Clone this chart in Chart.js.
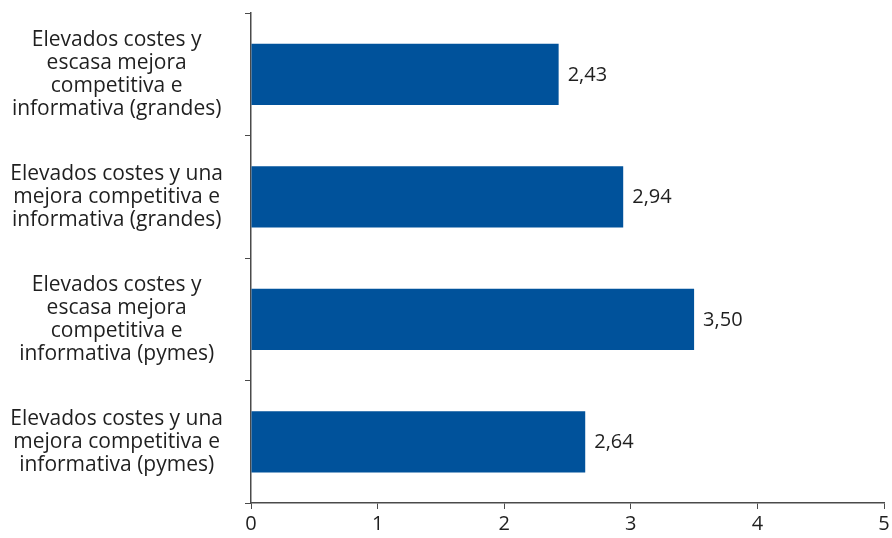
<!DOCTYPE html>
<html>
<head>
<meta charset="utf-8">
<script src="https://cdn.jsdelivr.net/npm/chart.js@4"></script>
<style>
  html, body { margin: 0; padding: 0; background: #fff; }
  #wrap { width: 892px; height: 538px; }
</style>
</head>
<body>
<div id="wrap"><canvas id="c" width="892" height="538"></canvas></div>
<script>
// Categories (multi-line labels) and their values
const categories = [
  ["Elevados costes y", "escasa mejora", "competitiva e", "informativa (grandes)"],
  ["Elevados costes y una", "mejora competitiva e", "informativa (grandes)"],
  ["Elevados costes y", "escasa mejora", "competitiva e", "informativa (pymes)"],
  ["Elevados costes y una", "mejora competitiva e", "informativa (pymes)"]
];
const values = [2.43, 2.94, 3.50, 2.64];
const xTicks = [0, 1, 2, 3, 4, 5];

const FONT = "'Open Sans', 'Noto Sans', sans-serif";
const TEXT = "#1f1f1f";
const AXIS = "#4a4a4a";
const BAR = "#00529b";

const fmt = v => v.toFixed(2).replace('.', ',');

// Writes each bar's value just past its end
const valueLabels = {
  id: 'valueLabels',
  afterDatasetsDraw(chart) {
    const ctx = chart.ctx;
    const meta = chart.getDatasetMeta(0);
    ctx.save();
    ctx.font = "20px " + FONT;
    ctx.fillStyle = TEXT;
    ctx.textAlign = 'left';
    ctx.textBaseline = 'middle';
    meta.data.forEach((bar, i) => {
      ctx.fillText(fmt(values[i]), bar.x + 9, bar.y + 1);
    });
    ctx.restore();
  }
};

new Chart(document.getElementById('c'), {
  type: 'bar',
  data: {
    labels: categories,
    datasets: [{
      data: values,
      backgroundColor: BAR,
      borderWidth: 0,
      categoryPercentage: 0.5,
      barPercentage: 1
    }]
  },
  options: {
    indexAxis: 'y',
    responsive: false,
    animation: false,
    layout: { padding: { top: 13, right: 8, left: 0, bottom: 0 } },
    plugins: { legend: { display: false }, tooltip: { enabled: false } },
    scales: {
      x: {
        min: 0, max: 5,
        afterBuildTicks(scale) { scale.ticks = xTicks.map(v => ({ value: v })); },
        afterFit(scale) { scale.height = 35; scale.paddingLeft = 0; scale.paddingRight = 0; },
        grid: { drawOnChartArea: false, drawTicks: true, tickLength: 6, color: AXIS, lineWidth: 1 },
        border: { display: true, color: AXIS, width: 1.5 },
        ticks: { color: TEXT, font: { family: FONT, size: 20 }, padding: 3, maxRotation: 0 }
      },
      y: {
        afterFit(scale) { scale.width = 251; scale.paddingTop = 0; scale.paddingBottom = 0; },
        grid: { offset: true, drawOnChartArea: false, drawTicks: true, tickLength: 6, color: AXIS, lineWidth: 1 },
        border: { display: true, color: AXIS, width: 1.5 },
        ticks: {
          color: TEXT,
          font: { family: FONT, size: 21, lineHeight: '23px' },
          crossAlign: 'center',
          padding: 22
        }
      }
    }
  },
  plugins: [valueLabels]
});
</script>
</body>
</html>
